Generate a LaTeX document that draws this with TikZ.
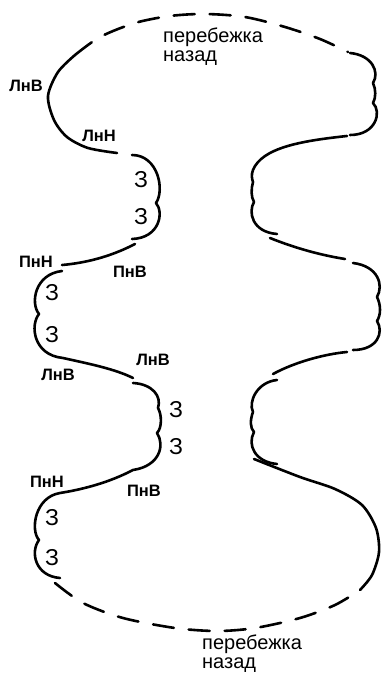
\documentclass[tikz,border=0pt]{standalone}
\usepackage{fontspec}
\setmainfont{Liberation Sans}
\begin{document}
\begin{tikzpicture}[x=1pt,y=-1pt,
  track/.style={draw=black, line width=2.6pt, line cap=round, line join=round},
  gapline/.style={track, dash pattern=on 21pt off 15pt},
  lbl/.style={font=\fontsize{16.5}{16.5}\selectfont\bfseries, inner sep=0pt},
  zlbl/.style={font=\fontsize{23}{23}\selectfont, inner sep=0pt},
  run/.style={font=\fontsize{20}{19}\selectfont, align=left, inner sep=0pt, anchor=north west}]
\useasboundingbox (0,0) rectangle (382,674);

% top run-back (dashed)
\draw[gapline] plot[smooth] coordinates {(75,55) (100,37) (135,23) (170,16) (205,14) (245,17) (285,27) (320,39) (348,52)};
% left side, top to bottom
\draw[track] plot[smooth] coordinates {(75,55) (58,72) (48,96) (54,120) (67,137) (88,148) (117,153)};
\draw[track] (132,155) .. controls (158,155) and (165,190) .. (156,203)
  .. controls (164,212) and (160,238) .. (132,239);
\draw[track] (135,244) .. controls (110,257) and (85,263) .. (62,265);
\draw[track] (62,271) .. controls (35,274) and (30,303) .. (39,314)
  .. controls (30,325) and (33,355) .. (63,358)
  .. controls (90,364) and (115,369) .. (133,378);
\draw[track] (133,383) .. controls (152,384) and (162,396) .. (158,408)
  .. controls (162,415) and (162,428) .. (157,433)
  .. controls (165,445) and (160,466) .. (133,470)
  .. controls (110,482) and (85,489) .. (60,493)
  .. controls (35,497) and (30,530) .. (39,540)
  .. controls (30,552) and (35,576) .. (60,578);
% bottom run-back (dashed)
\draw[gapline] plot[smooth] coordinates {(55,583) (83,603) (123,618) (175,628) (217,631) (255,628) (300,618) (335,605) (360,590)};
% right side, bottom to top
\draw[track] plot[smooth] coordinates {(360,590) (372,575) (379,552) (376,528) (362,505) (335,489) (300,477) (254,459)};
\draw[track] (277,464) .. controls (255,462) and (247,445) .. (254,432)
  .. controls (250,428) and (250,420) .. (253,412)
  .. controls (248,402) and (257,382) .. (277,380);
\draw[track] (273,374) .. controls (295,362) and (325,354) .. (347,352);
\draw[track] (353,350) .. controls (378,350) and (384,332) .. (377,321)
  .. controls (381,315) and (381,305) .. (377,297)
  .. controls (384,285) and (378,266) .. (353,263);
\draw[track] (345,259) .. controls (320,255) and (295,248) .. (270,238);
\draw[track] (277,234) .. controls (252,232) and (248,212) .. (254,202)
  .. controls (251,197) and (251,189) .. (253,182)
  .. controls (252,179) and (251,175) .. (253,170)
  .. controls (262,148) and (300,141) .. (347,136);
\draw[track] (350,135) .. controls (376,135) and (382,112) .. (373,103)
  .. controls (376,98) and (376,89) .. (373,83)
  .. controls (380,72) and (372,55) .. (350,53);

% labels
\node[run] (top) at (163,28) {перебежка\\назад};
\node[run] (bottom) at (202,635) {перебежка\\назад};
\node[lbl] (l1) at (26,86) {ЛнВ};
\node[lbl] (l2) at (99,136) {ЛнН};
\node[zlbl] (z1) at (141,180) {З};
\node[zlbl] (z2) at (141,217) {З};
\node[lbl] (l3) at (36,262) {ПнН};
\node[lbl] (l4) at (130,272) {ПнВ};
\node[zlbl] (z3) at (52,293) {З};
\node[zlbl] (z4) at (52,335) {З};
\node[lbl] (l5) at (153,360) {ЛнВ};
\node[lbl] (l6) at (58,375) {ЛнВ};
\node[zlbl] (z5) at (176,410) {З};
\node[zlbl] (z6) at (176,447) {З};
\node[lbl] (l7) at (47,482) {ПнН};
\node[lbl] (l8) at (144,491) {ПнВ};
\node[zlbl] (z7) at (52,518) {З};
\node[zlbl] (z8) at (52,558) {З};
\end{tikzpicture}
\end{document}
